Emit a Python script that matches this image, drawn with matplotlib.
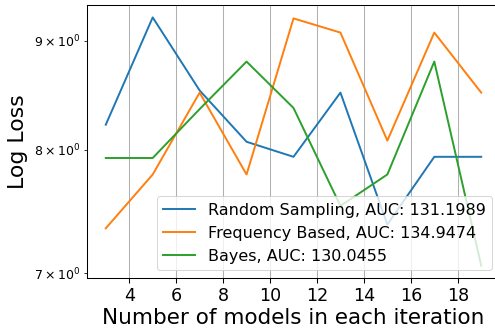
import matplotlib
matplotlib.use("Agg")
import matplotlib.pyplot as plt
from matplotlib.ticker import MultipleLocator

x_values = [3, 5, 7, 9, 11, 13, 15, 17, 19]
random_sampling = [8.22, 9.23, 8.53, 8.07, 7.94, 8.51, 7.38, 7.94, 7.94]
frequency_based = [7.35, 7.79, 8.51, 7.79, 9.22, 9.08, 8.08, 9.08, 8.51]
bayes = [7.93, 7.93, 8.36, 8.80, 8.37, 7.53, 7.79, 8.80, 7.06]
labels = ["Random Sampling, AUC: 131.1989",
          "Frequency Based, AUC: 134.9474",
          "Bayes, AUC: 130.0455"]

s = 1.3
plt.rcParams.update({
    "axes.linewidth": 0.8 * s,
    "xtick.major.size": 3.5 * s, "xtick.major.width": 0.8 * s,
    "ytick.major.size": 3.5 * s, "ytick.major.width": 0.8 * s,
    "ytick.minor.size": 2 * s, "ytick.minor.width": 0.6 * s,
    "xtick.major.pad": 3.5 * s, "ytick.major.pad": 3.5 * s,
    "ytick.minor.pad": 3.4 * s,
    "grid.linewidth": 0.8 * s,
    "lines.linewidth": 1.5 * s,
    "axes.labelpad": 4 * s,
})

fig = plt.figure(figsize=(495/72, 328/72), dpi=72)
ax = fig.add_axes([87/495, 50/328, (500-87)/495, (278-5)/328])
ax.plot(x_values, random_sampling, label=labels[0])
ax.plot(x_values, frequency_based, label=labels[1])
ax.plot(x_values, bayes, label=labels[2])
ax.set_yscale("log")
ax.xaxis.set_major_locator(MultipleLocator(2))
ax.grid(axis="x")
ax.tick_params(axis="x", labelsize=17.5)
ax.tick_params(axis="y", which="both", labelsize=12.5)
ax.set_xlabel("Number of models in each iteration", fontsize=21.5, labelpad=2.5)
ax.set_ylabel("Log Loss", fontsize=22)
ax.legend(loc="lower right", fontsize=16)
fig.savefig("out.png", dpi=72)
